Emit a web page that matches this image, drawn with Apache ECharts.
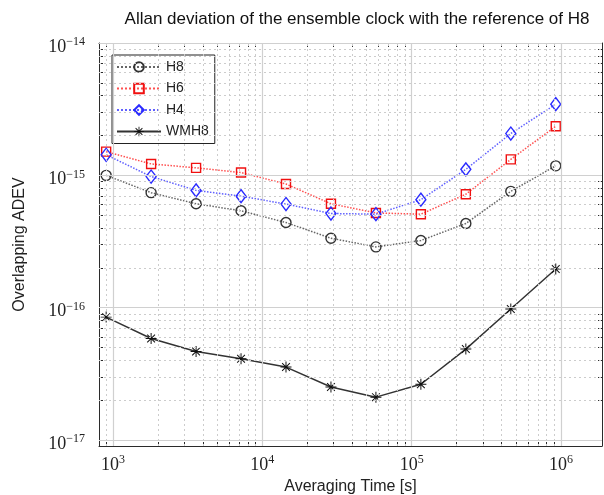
<!DOCTYPE html>
<html>
<head>
<meta charset="utf-8">
<script src="https://cdn.jsdelivr.net/npm/echarts@6/dist/echarts.min.js"></script>
<style>
  html, body { margin: 0; padding: 0; background: #fff; }
  #chart { width: 604px; height: 495px; }
</style>
</head>
<body>
<div id="chart"></div>
<script>
// averaging times [s]
const tau = [900, 1800, 3600, 7200, 14400, 28800, 57600, 115200, 230400, 460800, 921600];

// overlapping ADEV
const adevH8 = [1.0e-15, 7.4e-16, 6.1e-16, 5.4e-16, 4.4e-16, 3.35e-16, 2.88e-16, 3.22e-16, 4.33e-16, 7.57e-16, 1.18e-15];
const adevH6 = [1.51e-15, 1.22e-15, 1.14e-15, 1.05e-15, 8.6e-16, 6.1e-16, 5.2e-16, 5.09e-16, 7.2e-16, 1.32e-15, 2.35e-15];
const adevH4 = [1.43e-15, 9.8e-16, 7.7e-16, 6.96e-16, 6.07e-16, 5.15e-16, 5.09e-16, 6.55e-16, 1.11e-15, 2.07e-15, 3.45e-15];
const adevWMH8 = [8.49e-17, 5.85e-17, 4.67e-17, 4.11e-17, 3.56e-17, 2.52e-17, 2.11e-17, 2.64e-17, 4.87e-17, 9.77e-17, 1.96e-16];

const xMin = 806, xMax = 1.88e6;
const yMin = 9.02e-18, yMax = 1e-14;

const serif = 'Liberation Serif';
const sans = 'Liberation Sans';

// asterisk marker (4 thin bars)
function asteriskPath() {
  let d = '';
  const t = 0.09;
  [0, 45, 90, 135].forEach(a => {
    const r = a * Math.PI / 180;
    const c = Math.cos(r), s = Math.sin(r);
    const pts = [[-1, -t], [1, -t], [1, t], [-1, t]].map(p => [
      (p[0] * c - p[1] * s).toFixed(3), (p[0] * s + p[1] * c).toFixed(3)
    ]);
    d += 'M' + pts.map(p => p.join(' ')).join(' L') + ' Z ';
  });
  return 'path://' + d;
}

// grid positions k x 10^n inside the range
function gridVals(lo, hi, e0, e1, ks) {
  const out = [];
  for (let e = e0; e <= e1; e++) {
    ks.forEach(k => {
      const v = k * Math.pow(10, e);
      if (v > lo * 1.0001 && v < hi * 1.0001) out.push(v);
    });
  }
  return out;
}
const minorK = [2, 3, 4, 5, 6, 7, 8, 9];
const xMinor = gridVals(xMin, xMax, 2, 6, minorK);
const yMinor = gridVals(yMin, yMax, -18, -15, minorK);
const xMajor = gridVals(xMin, xMax, 2, 6, [1]);
const yMajor = gridVals(yMin, yMax, -18, -14, [1]);
const xTicks = xMajor.concat(xMinor).sort((a, b) => a - b);
const yTicks = yMajor.concat(yMinor).sort((a, b) => a - b);

function powLabel(value) {
  const l = Math.log10(value);
  const e = Math.round(l);
  if (Math.abs(l - e) > 0.01) return '';
  return '{b|10}{s|' + (e < 0 ? '\u2212' + (-e) : e) + '}';
}
const labelRich = {
  b: { fontFamily: serif, fontSize: 18, color: '#222', verticalAlign: 'bottom', lineHeight: 20 },
  s: { fontFamily: serif, fontSize: 12, color: '#222', verticalAlign: 'top', lineHeight: 20 }
};

const frameLine = { show: true, lineStyle: { color: '#2b2b2b', width: 1 } };
const xTick = { show: true, inside: true, length: 4, customValues: xTicks, lineStyle: { color: '#2b2b2b' } };
const yTick = { show: true, inside: true, length: 4, customValues: yTicks, lineStyle: { color: '#2b2b2b' } };

const chart = echarts.init(document.getElementById('chart'));
chart.setOption({
  animation: false,
  backgroundColor: '#fff',
  title: {
    text: 'Allan deviation of the ensemble clock with the reference of H8',
    left: 352, top: 6, textAlign: 'center',
    textStyle: { fontFamily: sans, fontSize: 17, fontWeight: 'normal', color: '#111' }
  },
  grid: { left: 99, right: 2, top: 43, bottom: 49, outerBoundsMode: 'none' },
  legend: {
    orient: 'vertical',
    left: 112, top: 55,
    padding: [5, 6, 5, 4],
    itemWidth: 44, itemHeight: 12, itemGap: 7.5,
    backgroundColor: '#fff',
    borderColor: '#222', borderWidth: 1,
    textStyle: { fontFamily: sans, fontSize: 14, color: '#222' },
    data: ['H8', 'H6', 'H4', 'WMH8']
  },
  xAxis: [{
    type: 'log', min: xMin, max: xMax,
    name: 'Averaging Time [s]', nameLocation: 'middle', nameGap: 31,
    nameTextStyle: { fontFamily: sans, fontSize: 16, color: '#222' },
    axisLine: frameLine, axisTick: xTick,
    axisLabel: { formatter: powLabel, rich: labelRich, margin: 3, padding: [5, 0, 0, 0], showMinLabel: false, showMaxLabel: false },
    splitLine: { show: false }
  }, {
    type: 'log', min: xMin, max: xMax, position: 'top',
    axisLine: frameLine, axisTick: xTick, axisLabel: { show: false }, splitLine: { show: false }
  }],
  yAxis: [{
    type: 'log', min: yMin, max: yMax,
    name: 'Overlapping ADEV', nameLocation: 'middle', nameGap: 71,
    nameTextStyle: { fontFamily: sans, fontSize: 16, color: '#222' },
    axisLine: frameLine, axisTick: yTick,
    axisLabel: { formatter: powLabel, rich: labelRich, margin: 14, padding: [6, 0, 0, 0], showMinLabel: false },
    splitLine: { show: false }
  }, {
    type: 'log', min: yMin, max: yMax, position: 'right',
    axisLine: frameLine, axisTick: yTick, axisLabel: { show: false }, splitLine: { show: false }
  }],
  series: [
    {
      name: 'minorGrid', type: 'line', data: [], silent: true, z: 1,
      markLine: {
        silent: true, symbol: 'none', label: { show: false }, animation: false, precision: 20,
        lineStyle: { color: '#cccccc', type: [2, 3], width: 1 },
        data: xMinor.map(v => ({ xAxis: v })).concat(yMinor.map(v => ({ yAxis: v })))
      }
    },
    {
      name: 'majorGrid', type: 'line', data: [], silent: true, z: 1,
      markLine: {
        silent: true, symbol: 'none', label: { show: false }, animation: false, precision: 20,
        lineStyle: { color: '#d0d0d0', type: 'solid', width: 1.2 },
        data: xMajor.map(v => ({ xAxis: v })).concat(yMajor.map(v => ({ yAxis: v })))
      }
    },
    {
      name: 'H8', type: 'line', z: 3,
      data: tau.map((t, i) => [t, adevH8[i]]),
      symbol: 'circle', symbolSize: 10,
      itemStyle: { color: 'rgba(255,255,255,0)', borderColor: '#333', borderWidth: 1.4 },
      lineStyle: { color: '#666', width: 1.5, type: 'dotted' }
    },
    {
      name: 'H6', type: 'line', z: 3,
      data: tau.map((t, i) => [t, adevH6[i]]),
      symbol: 'rect', symbolSize: 9,
      itemStyle: { color: 'rgba(255,255,255,0)', borderColor: '#f01010', borderWidth: 1.4 },
      lineStyle: { color: '#ff5050', width: 1.5, type: 'dotted' }
    },
    {
      name: 'H4', type: 'line', z: 3,
      data: tau.map((t, i) => [t, adevH4[i]]),
      symbol: 'diamond', symbolSize: [10, 13],
      itemStyle: { color: 'rgba(255,255,255,0)', borderColor: '#2a2aff', borderWidth: 1.4 },
      lineStyle: { color: '#6060ff', width: 1.5, type: 'dotted' }
    },
    {
      name: 'WMH8', type: 'line', z: 3,
      data: tau.map((t, i) => [t, adevWMH8[i]]),
      symbol: asteriskPath(), symbolSize: 11,
      itemStyle: { color: '#111' },
      lineStyle: { color: '#333', width: 1.5 }
    }
  ]
});
</script>
</body>
</html>
